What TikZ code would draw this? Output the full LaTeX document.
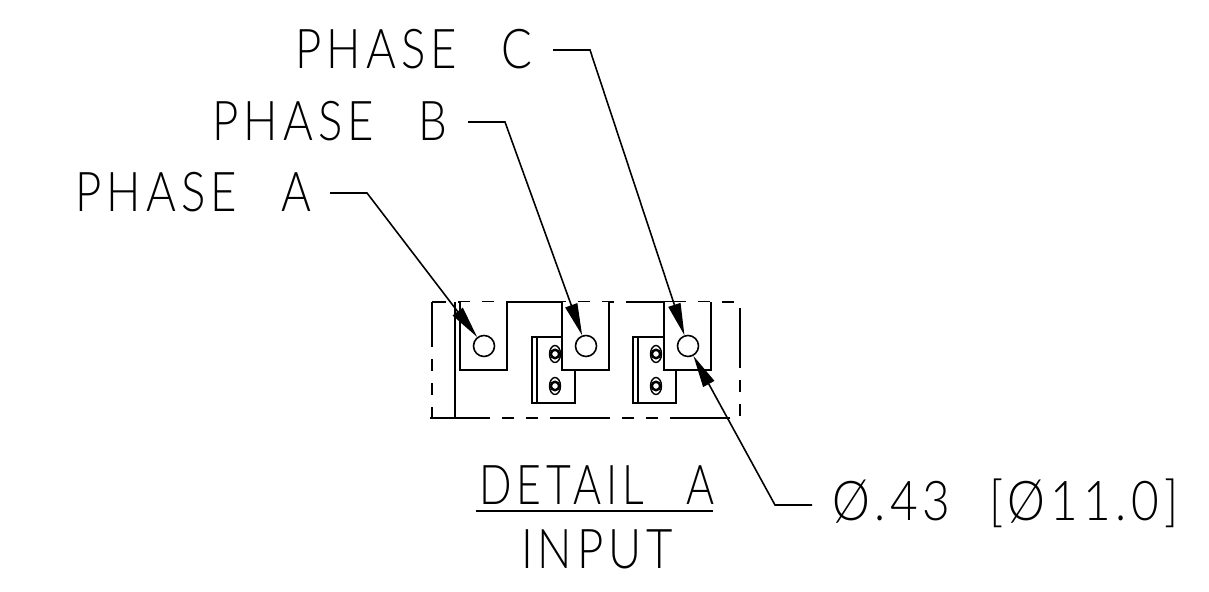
\documentclass[tikz,border=0pt]{standalone}
\usepackage{fontspec}
\setmainfont{Lato Light}[LetterSpace=9,WordSpace=2.6,FakeStretch=.83]
\newfontfamily\diafont{Lato Light}[LetterSpace=9,WordSpace=2.2,FakeStretch=.87]
\newfontfamily\titlefont{Lato Light}[LetterSpace=9,WordSpace=2.6,FakeStretch=.78]
\usetikzlibrary{arrows.meta,positioning}
\tikzset{>={Triangle[length=.32cm,width=.125cm]}}
\tikzstyle{every node}=[font=\fontsize{15.6}{18}\selectfont,inner sep=0pt]
\tikzstyle{leader}=[line width=.45pt,->]
\tikzstyle{outline}=[line width=.45pt]
\tikzstyle{hole}=[draw,outline,fill=white,circle,minimum size=.21cm]
\tikzstyle{phantom}=[outline,dash pattern=on .6cm off .12cm on .12cm off .12cm on .12cm off .12cm]
\begin{document}
\begin{tikzpicture}[x=.01cm,y=-.01cm]
    \useasboundingbox (0,0) rectangle (1209,592);
    % phantom border
    \draw[phantom,dash phase=.46cm] (432,302)--(740,302);
    \draw[phantom,dash phase=0cm] (430,418)--(740,418);
    \draw[phantom,dash phase=.15cm] (432,302)--(432,418);
    \draw[phantom,dash phase=1.14cm] (740,302)--(740,418);
    \draw[outline] (455,302)--(455,418);
    \draw[outline] (507,302)--(562,302);
    % clamp blocks with bolts
    \foreach \x in {532,633}{
      \draw[outline] (\x,337) rectangle (\x+43,403);
      \draw[outline] (\x+5,337)--(\x+5,403);
      \foreach \y in {354,386}{
        \draw[thin] (\x+23,\y) ellipse (5.5 and 8.5);
        \draw[line width=.7pt] (\x+23,\y) circle (4.2);
      }
    }
    % terminals
    \foreach \x/\n in {460/A,562/B,664/C}{
      \fill[white] (\x,302) rectangle (\x+47,370);
      \draw[outline] (\x,302)--(\x,370)--(\x+47,370)--(\x+47,302);
      \node[hole] (hole\n) at (\x+24,346) {};
    }
    % labels
    \node[anchor=west] (phaseA) at (75,192) {PHASE A};
    \node[anchor=west] (phaseB) at (212,121) {PHASE B};
    \node[anchor=west] (phaseC) at (295,49) {PHASE C};
    \coordinate (startA) at (330,193);
    \coordinate (startB) at (468,122);
    \coordinate (startC) at (553,50);
    \coordinate (elbowA) at (367,193);
    \coordinate (elbowB) at (505,122);
    \coordinate (elbowC) at (590,50);
    \foreach \n in {A,B,C}
      \draw[leader] (start\n)--(elbow\n)--(hole\n);
    \node[anchor=west,font=\fontsize{15.6}{18}\diafont] (dia) at (832,503) {Ø.43 [Ø11.0]};
    \coordinate (startD) at (812,505);
    \coordinate (elbowD) at (775,505);
    \draw[leader] (startD)--(elbowD)--(holeC);
    \node[font=\fontsize{15.6}{18}\titlefont] (detail) at (597,485) {DETAIL A};
    \node[below=.24cm of detail] (input) {INPUT};
    \draw[outline] (476,511)--(713,511);
\end{tikzpicture}
\end{document}
